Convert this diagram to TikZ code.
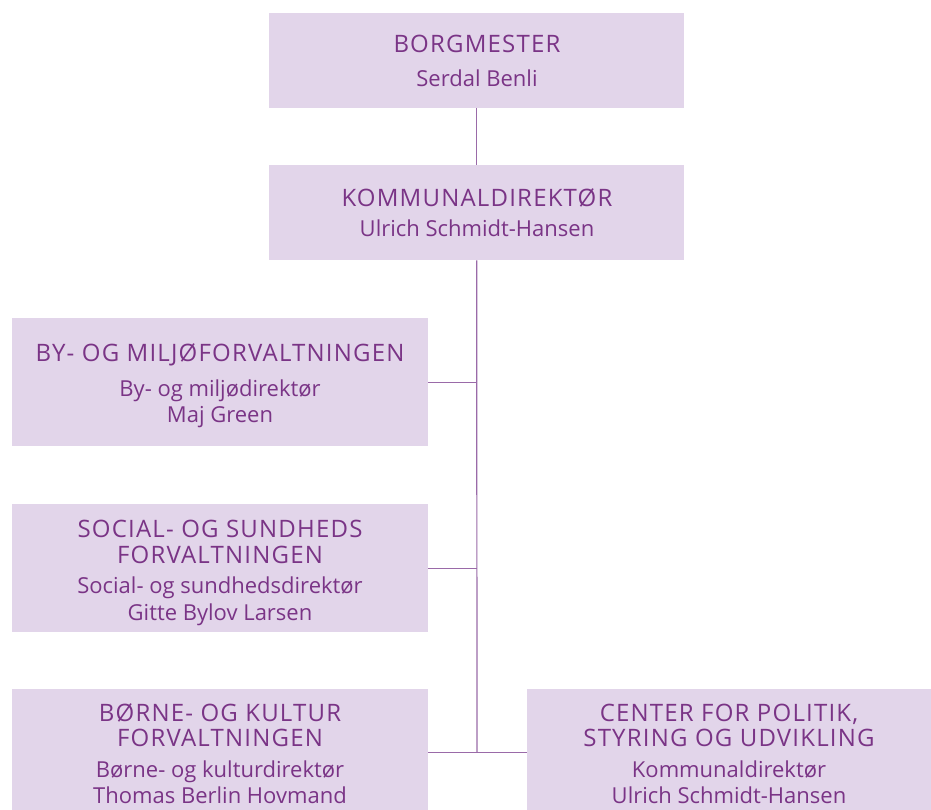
\documentclass[tikz,border=0pt]{standalone}
\usepackage{fontspec}
\setmainfont{Open Sans}
\newfontfamily\ttlfont[LetterSpace=5]{Open Sans}
\definecolor{boxfill}{HTML}{E2D5EA}
\definecolor{txt}{HTML}{7A3486}
\definecolor{ln}{HTML}{9A6AA8}
\begin{document}
\begin{tikzpicture}[x=1pt,y=-1pt,
  orgbox/.style={fill=boxfill,draw=none,anchor=north west,inner sep=0pt},
  ttl/.style={text=txt,anchor=base,inner sep=0pt,font=\ttlfont\fontsize{24}{28}\selectfont},
  nm/.style={text=txt,anchor=base,inner sep=0pt,font=\fontsize{22}{26}\selectfont},
  conn/.style={draw=ln,line width=1.2pt}]
\useasboundingbox (0,0) rectangle (931,810);
% boxes
\node[orgbox,minimum width=415pt,minimum height=95pt] (bm) at (269,13) {};
\node[orgbox,minimum width=415pt,minimum height=95pt] (kd) at (269,165) {};
\node[orgbox,minimum width=416pt,minimum height=128pt] (by) at (12,318) {};
\node[orgbox,minimum width=416pt,minimum height=128pt] (so) at (12,504) {};
\node[orgbox,minimum width=416pt,minimum height=127pt] (bo) at (12,689) {};
\node[orgbox,minimum width=404pt,minimum height=127pt] (ce) at (527,689) {};
% connectors
\coordinate (j) at (477,752.5);
\draw[conn] (bm.south) -- (kd.north);
\draw[conn] (kd.south) -- (j);
\draw[conn] (by.east) -- (by.east -| kd.south);
\draw[conn] (so.east) -- (so.east -| kd.south);
\draw[conn] (bo.east |- j) -- (ce.west |- j);
% texts
\node[ttl] (t1) at (477,53) {BORGMESTER};
\node[nm]  (n1) at (477,87) {Serdal Benli};
\node[ttl] (t2) at (477,207) {KOMMUNALDIREKTØR};
\node[nm]  (n2) at (477,237) {Ulrich Schmidt-Hansen};
\node[ttl] (t3) at (220,361) {BY- OG MILJØFORVALTNINGEN};
\node[nm]  (n3a) at (220,396) {By- og miljødirektør};
\node[nm]  (n3b) at (220,422) {Maj Green};
\node[ttl] (t4a) at (220,537) {SOCIAL- OG SUNDHEDS};
\node[ttl] (t4b) at (220,563) {FORVALTNINGEN};
\node[nm]  (n4a) at (220,593) {Social- og sundhedsdirektør};
\node[nm]  (n4b) at (220,620) {Gitte Bylov Larsen};
\node[ttl] (t5a) at (220,721) {BØRNE- OG KULTUR};
\node[ttl] (t5b) at (220,746) {FORVALTNINGEN};
\node[nm]  (n5a) at (220,777) {Børne- og kulturdirektør};
\node[nm]  (n5b) at (220,803) {Thomas Berlin Hovmand};
\node[ttl] (t6a) at (729,721) {CENTER FOR POLITIK,};
\node[ttl] (t6b) at (729,746) {STYRING OG UDVIKLING};
\node[nm]  (n6a) at (729,777) {Kommunaldirektør};
\node[nm]  (n6b) at (729,803) {Ulrich Schmidt-Hansen};
\end{tikzpicture}
\end{document}
